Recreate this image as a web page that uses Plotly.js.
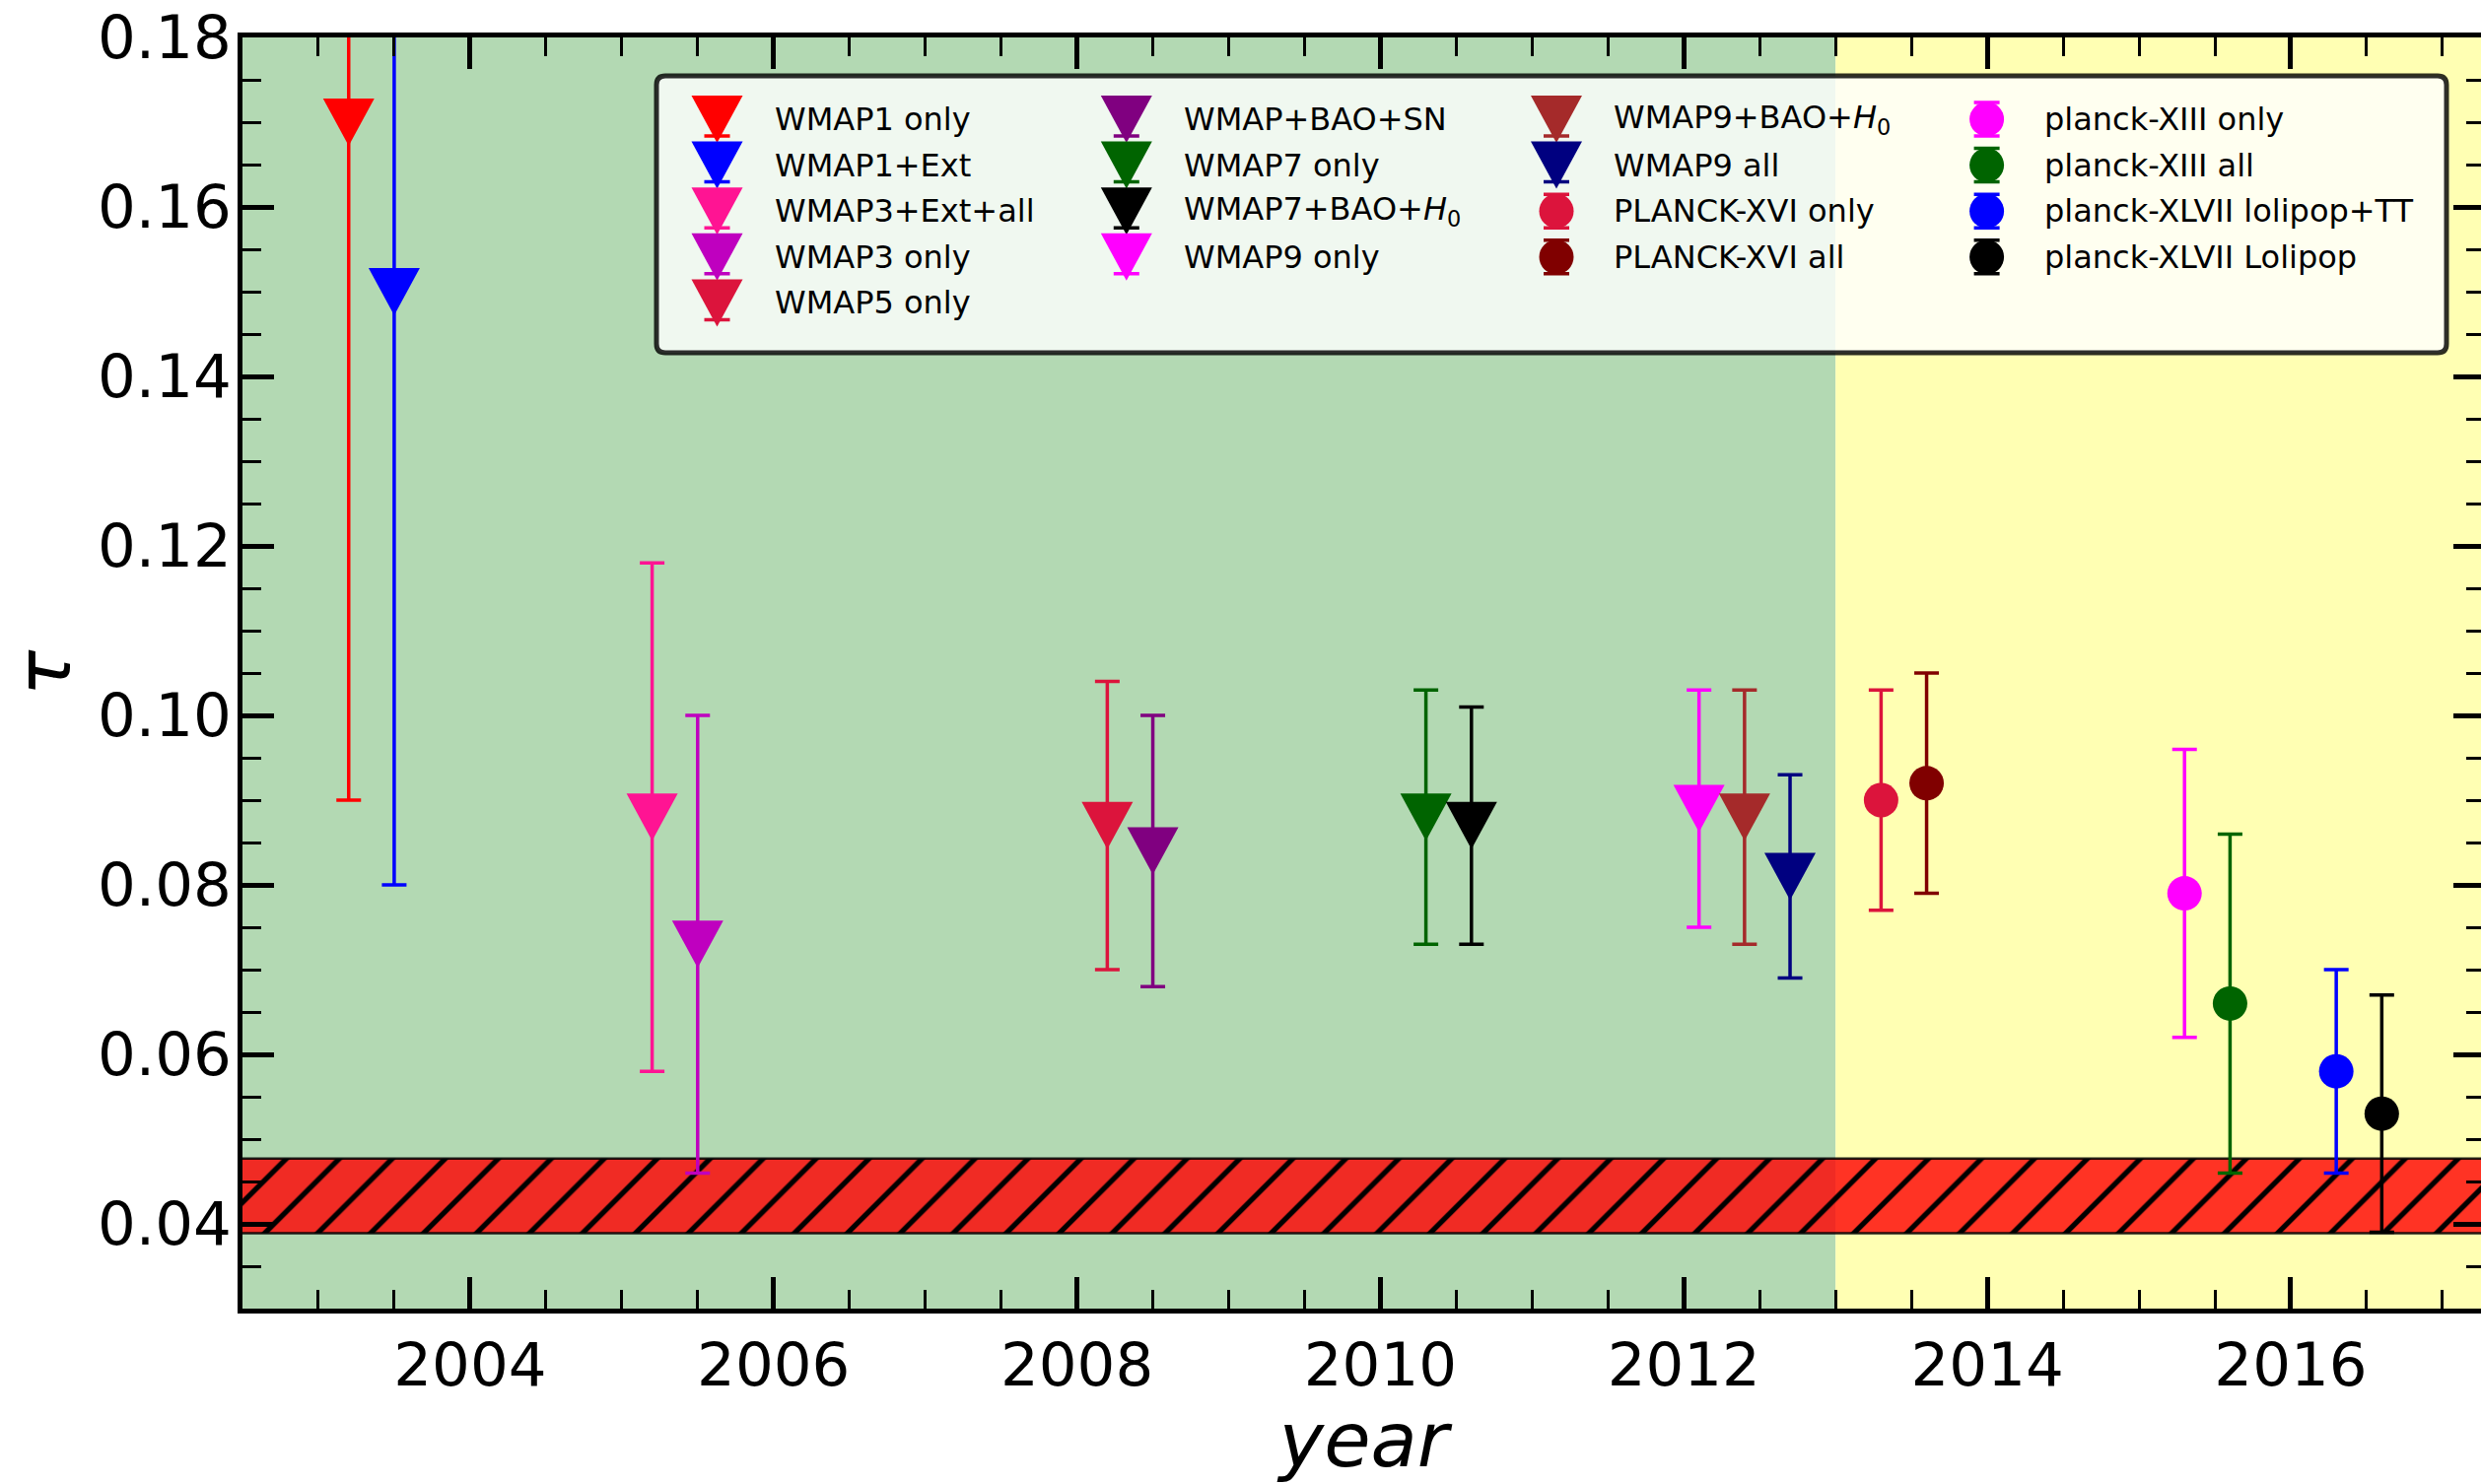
<!DOCTYPE html>
<html>
<head>
<meta charset="utf-8">
<script src="https://cdn.plot.ly/plotly-3.0.1.min.js"></script>
<style>
  html, body { margin: 0; padding: 0; background: #ffffff; overflow: hidden; }
  #frame { width: 2517px; height: 1506px; overflow: hidden; position: relative; }
  #chart { width: 2560px; height: 1506px; }
</style>
</head>
<body>
<div id="frame"><div id="chart"></div></div>
<script>
// Optical depth to reionization, tau, as published by WMAP and Planck releases.
const names = [
  'WMAP1 only', 'WMAP1+Ext', 'WMAP3+Ext+all', 'WMAP3 only', 'WMAP5 only',
  'WMAP+BAO+SN', 'WMAP7 only', 'WMAP7+BAO+<i>H</i><sub>0</sub>', 'WMAP9 only',
  'WMAP9+BAO+<i>H</i><sub>0</sub>', 'WMAP9 all', 'PLANCK-XVI only', 'PLANCK-XVI all',
  'planck-XIII only', 'planck-XIII all', 'planck-XLVII lolipop+TT', 'planck-XLVII Lolipop'
];
const years = [
  2003.2, 2003.5, 2005.2, 2005.5, 2008.2,
  2008.5, 2010.3, 2010.6, 2012.1,
  2012.4, 2012.7, 2013.3, 2013.6,
  2015.3, 2015.6, 2016.3, 2016.6
];
const tau = [
  0.170, 0.150, 0.088, 0.073, 0.087,
  0.084, 0.088, 0.087, 0.089,
  0.088, 0.081, 0.090, 0.092,
  0.079, 0.066, 0.058, 0.053
];
const tauErr = [
  0.080, 0.070, 0.030, 0.027, 0.017,
  0.016, 0.015, 0.014, 0.014,
  0.015, 0.012, 0.013, 0.013,
  0.017, 0.020, 0.012, 0.014
];
const colors = [
  '#ff0000', '#0000ff', '#ff1493', '#bf00bf', '#dc143c',
  '#800080', '#006400', '#000000', '#ff00ff',
  '#a52a2a', '#000080', '#dc143c', '#800000',
  '#ff00ff', '#006400', '#0000ff', '#000000'
];
// 'v' = WMAP-era results (down triangles), 'o' = Planck results (circles)
const markerKinds = ['v','v','v','v','v','v','v','v','v','v','v','o','o','o','o','o','o'];
const legendColumns = [[0, 1, 2, 3, 4], [5, 6, 7, 8], [9, 10, 11, 12], [13, 14, 15, 16]];

// Lower-limit band from high-redshift constraints
const bandTau = [0.0389, 0.0477];
// WMAP era / Planck era boundary
const eraSplit = 2013;

const xRange = [2002.5, 2017.28];
const yRange = [0.03, 0.18];
const xTickVals = [2004, 2006, 2008, 2010, 2012, 2014, 2016];
const xTickText = ['2004', '2006', '2008', '2010', '2012', '2014', '2016'];
const yTickVals = [0.04, 0.06, 0.08, 0.10, 0.12, 0.14, 0.16, 0.18];
const yTickText = ['0.04', '0.06', '0.08', '0.10', '0.12', '0.14', '0.16', '0.18'];

// ---- geometry of the figure (pixels) ----
const FIG_W = 2560, FIG_H = 1506;
const M = { l: 246, r: 39, t: 38, b: 178 };
const PW = FIG_W - M.l - M.r, PH = FIG_H - M.t - M.b;
const px2paperX = px => (px - M.l) / PW;
const px2paperY = py => 1 - (py - M.t) / PH;

const TRI_PATH = 'M-26,24 L26,24 L0,-24 Z';
const ERR_W = 3.5, CAP_HALF = 12.5;

const traces = [];

// hatched band
traces.push({
  type: 'scatter', mode: 'lines',
  x: [xRange[0] - 1, xRange[1] + 1, xRange[1] + 1, xRange[0] - 1, xRange[0] - 1],
  y: [bandTau[0], bandTau[0], bandTau[1], bandTau[1], bandTau[0]],
  fill: 'toself',
  fillcolor: 'rgba(255,0,0,0.8)',
  fillpattern: { shape: '/', bgcolor: 'rgba(255,0,0,0.8)', fgcolor: '#000000', size: 38, solidity: 0.14 },
  line: { color: 'rgba(0,0,0,0.85)', width: 2.5 },
  hoverinfo: 'skip', showlegend: false
});

// one errorbar series per measurement
names.forEach((name, i) => {
  const isTri = markerKinds[i] === 'v';
  traces.push({
    type: 'scatter', mode: 'markers', name: name,
    x: [years[i]], y: [tau[i]],
    error_y: { type: 'data', array: [tauErr[i]], visible: true, color: colors[i], thickness: ERR_W, width: CAP_HALF },
    marker: isTri ? { symbol: 'triangle-down', size: 24, color: colors[i] }
                  : { symbol: 'circle', size: 35, color: colors[i], line: { width: 0 } },
    showlegend: false
  });
});

const shapes = [];
// era backgrounds
shapes.push({ type: 'rect', layer: 'below', xref: 'x', yref: 'paper', x0: xRange[0] - 1, x1: eraSplit, y0: 0, y1: 1,
  fillcolor: '#b3d9b3', line: { width: 0 } });
shapes.push({ type: 'rect', layer: 'below', xref: 'x', yref: 'paper', x0: eraSplit, x1: xRange[1] + 1, y0: 0, y1: 1,
  fillcolor: '#ffffb3', line: { width: 0 } });

// down-triangle markers in matplotlib proportions, anchored on the data points
names.forEach((name, i) => {
  if (markerKinds[i] !== 'v') return;
  shapes.push({ type: 'path', layer: 'above', xref: 'x', yref: 'y', xsizemode: 'pixel', ysizemode: 'pixel',
    xanchor: years[i], yanchor: tau[i], path: TRI_PATH, fillcolor: colors[i], line: { width: 0 } });
});

// legend frame (rounded box)
const box = { x: 666, y: 77, w: 1816, h: 281, r: 9 };
const bw = box.w, bh = box.h, br = box.r;
shapes.push({
  type: 'path', layer: 'above', xref: 'paper', yref: 'paper', xsizemode: 'pixel', ysizemode: 'pixel',
  xanchor: px2paperX(box.x), yanchor: px2paperY(box.y),
  path: `M${br},0 L${bw - br},0 Q${bw},0 ${bw},${-br} L${bw},${-(bh - br)} Q${bw},${-bh} ${bw - br},${-bh} ` +
        `L${br},${-bh} Q0,${-bh} 0,${-(bh - br)} L0,${-br} Q0,0 ${br},0 Z`,
  fillcolor: 'rgba(255,255,255,0.8)', line: { color: 'rgba(0,0,0,0.82)', width: 5 }
});

// legend entries
const legMarkerX = [727.5, 1142.8, 1579, 2015.6];
const legTextX = [785, 1200, 1636, 2073];
const legRow0 = 121, legDy = 46.6;
const annotations = [];
legendColumns.forEach((col, c) => {
  col.forEach((idx, r) => {
    const ax = px2paperX(legMarkerX[c]);
    const ay = px2paperY(legRow0 + r * legDy);
    // errorbar handle
    shapes.push({ type: 'path', layer: 'above', xref: 'paper', yref: 'paper', xsizemode: 'pixel', ysizemode: 'pixel',
      xanchor: ax, yanchor: ay,
      path: `M0,17 L0,-17 M-13,17 L13,17 M-13,-17 L13,-17`,
      line: { color: colors[idx], width: ERR_W }, fillcolor: 'rgba(0,0,0,0)' });
    if (markerKinds[idx] === 'v') {
      shapes.push({ type: 'path', layer: 'above', xref: 'paper', yref: 'paper', xsizemode: 'pixel', ysizemode: 'pixel',
        xanchor: ax, yanchor: ay, path: TRI_PATH, fillcolor: colors[idx], line: { width: 0 } });
    } else {
      shapes.push({ type: 'circle', layer: 'above', xref: 'paper', yref: 'paper', xsizemode: 'pixel', ysizemode: 'pixel',
        xanchor: ax, yanchor: ay, x0: -17.5, x1: 17.5, y0: -17.5, y1: 17.5, fillcolor: colors[idx], line: { width: 0 } });
    }
    annotations.push({ xref: 'paper', yref: 'paper', x: px2paperX(legTextX[c]), y: ay,
      xanchor: 'left', yanchor: 'middle', showarrow: false, text: names[idx],
      font: { family: 'DejaVu Sans', size: 32, color: '#000000' }, borderpad: 0 });
  });
});

const axisCommon = {
  showline: true, linewidth: 5, linecolor: '#000000', mirror: 'allticks',
  showgrid: false, zeroline: false,
  ticks: 'inside', ticklen: 32, tickwidth: 5, tickcolor: '#000000',
  tickfont: { family: 'DejaVu Sans', size: 61, color: '#000000' },
  tickmode: 'array'
};

const layout = {
  width: FIG_W, height: FIG_H,
  margin: { l: M.l, r: M.r, t: M.t, b: M.b, pad: 0 },
  paper_bgcolor: '#ffffff', plot_bgcolor: '#ffffff',
  font: { family: 'DejaVu Sans', color: '#000000' },
  showlegend: false,
  xaxis: Object.assign({}, axisCommon, {
    range: xRange, tickvals: xTickVals, ticktext: xTickText, ticklabelstandoff: 0,
    minor: { tickmode: 'linear', tick0: 2004, dtick: 0.5, ticks: 'inside', ticklen: 19, tickwidth: 3, tickcolor: '#000000', showgrid: false },
    title: { text: '<i>year</i>', font: { family: 'DejaVu Sans', size: 77, color: '#000000' }, standoff: 10 }
  }),
  yaxis: Object.assign({}, axisCommon, {
    range: yRange, tickvals: yTickVals, ticktext: yTickText, ticklabelstandoff: -6,
    minor: { tickmode: 'linear', tick0: 0.04, dtick: 0.005, ticks: 'inside', ticklen: 19, tickwidth: 3, tickcolor: '#000000', showgrid: false },
    title: { text: '<i>τ</i>', font: { family: 'DejaVu Sans', size: 77, color: '#000000' }, standoff: 18 }
  }),
  shapes: shapes,
  annotations: annotations
};

Plotly.newPlot('chart', traces, layout, { displayModeBar: false, staticPlot: true });
</script>
</body>
</html>
